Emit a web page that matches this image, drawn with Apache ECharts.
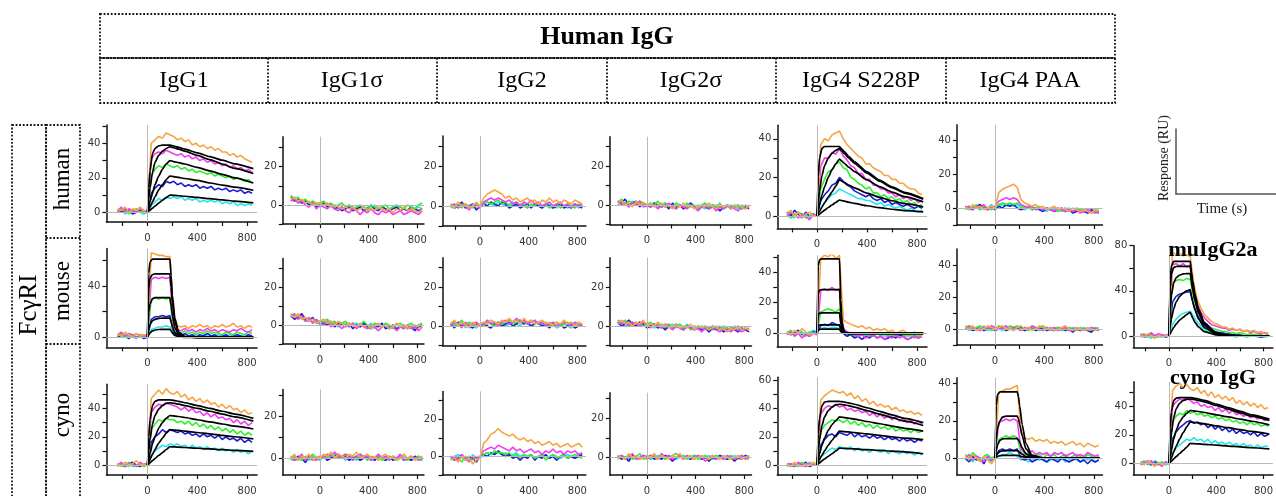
<!DOCTYPE html>
<html><head><meta charset="utf-8">
<script src="https://cdn.jsdelivr.net/npm/echarts@6/dist/echarts.min.js"></script>
<style>html,body{margin:0;padding:0;background:#fff}#c{width:1276px;height:496px}</style>
</head><body><div id="c"></div>
<script>
// ---- time bases ----
const T = [-240,-210,-180,-150,-120,-90,-60,-30,0,30,60,90,120,150,180,210,240,270,300,330,360,390,420,450,480,510,540,570,600,630,660,690,720,750,780,810,840];
const FT = [0,10,20,40,60,90,120,150,180,190,200,220,250,300,400,500,600,700,850];
const XT = [-200,0,200,400,600,800];
const XL = [0,400,800];
// ---- human FcγRI ----
const hIgG1_O = [2,1,3,0,2,1,3,1, 1, 40,42,44,43,46,45, 44,42,43,41,42,39,40,38,39,37,38,36,37,35,35,33,34,32,33,31,30,29];
const hIgG1_M = [1,3,0,2,1,0,2,1, 0, 31,34,35,34,36,35, 34,33,34,32,33,31,32,30,31,29,30,28,29,27,28,26,27,25,26,24,25,23];
const hIgG1_G = [0,2,1,-1,1,2,0,1, 0, 21,25,27,26,28,27, 26,27,25,26,24,25,23,24,23,22,23,21,22,21,20,21,19,20,19,18,19,17];
const hIgG1_B = [1,0,2,1,-1,0,1,0, 0, 11,14,16,15,18,17, 18,16,17,15,16,15,16,14,15,14,15,13,14,13,14,12,13,12,13,11,12,11];
const hIgG1_C = [0,1,-1,1,0,2,0,-1, 0, 4,6,8,7,9,8, 9,8,9,7,8,7,8,6,7,6,7,6,7,5,6,5,6,4,5,4,5,4];
const hIgG1_F1 = [0,14,24,34,37,38.5,39,39,39,38.8,38.6,38.2,37.6,36.6,34.5,32.3,30.2,28.1,25.3];
const hIgG1_F2 = [0,8,14,23,29,33,35.5,37,38,37.8,37.6,37.2,36.6,35.5,33,30.5,28,25.5,22.5];
const hIgG1_F3 = [0,3,6,11,16,21,25,28,30,29.8,29.6,29.2,28.8,28,26,24,22,20,17];
const hIgG1_F4 = [0,1.5,3,6,9,13,16,19,21,20.9,20.8,20.5,20.2,19.6,18.5,17,15.8,14.6,12.8];
const hIgG1_F5 = [0,0.6,1.2,2.4,3.6,5.3,7,8.5,10,9.95,9.9,9.8,9.6,9.3,8.6,7.9,7.2,6.5,5.5];

const hIgG1s_O = [3,4,2,3,1,2,0,1, 1, 0,1,-1,0,-1,-2, -1,-2,-1,-3,-2,-1,-3,-2,-3,-1,-2,-3,-2,-4,-2,-3,-1,-3,-2,-3,-4,-2];
const hIgG1s_M = [2,3,1,2,0,-1,1,-2, 0, -1,-2,0,-2,-3,-1, -3,-4,-2,-3,-5,-3,-4,-2,-4,-5,-3,-4,-3,-5,-4,-3,-5,-4,-3,-4,-5,-3];
const hIgG1s_G = [5,3,4,2,3,1,2,0, 1, 2,0,1,-1,0,1, -1,0,-2,-1,0,-1,-2,0,-1,-2,-1,0,-2,-1,0,-1,-2,0,-1,-2,0,1];
const hIgG1s_B = [4,2,3,1,2,0,1,-1, 0, 1,-1,0,-2,-1,-3, -2,-1,-3,-2,-1,-3,-2,0,-2,-3,-1,-2,-3,-2,-1,-3,-2,-3,-1,-2,-3,-2];
const hIgG1s_C = [3,4,2,1,3,0,2,1, -1, 0,1,-1,0,-2,-1, -2,0,-1,-2,-1,-3,-1,-2,0,-2,-1,-2,-3,-1,-2,-1,-2,-3,-1,-2,-1,-2];

const hIgG2_O = [1,-1,2,0,1,-1,0,2, 0, 4,6,7,8,7,6, 4,5,3,4,2,3,4,2,3,1,3,2,4,2,3,1,3,2,1,3,2,1];
const hIgG2_M = [0,1,-1,1,0,-2,1,0, -1, 2,3,4,3,4,3, 2,3,1,2,0,2,1,3,1,2,0,1,2,0,1,2,0,1,-1,1,0,1];
const hIgG2_G = [-1,0,1,-1,1,0,-1,1, 0, 1,2,1,2,3,1, 2,0,1,2,0,1,-1,1,0,2,0,1,-1,0,1,-1,0,1,0,-1,1,0];
const hIgG2_B = [1,-1,0,2,-1,0,1,-2, 0, 1,0,2,1,0,2, 1,-1,0,1,-1,0,1,-1,1,0,-1,1,0,-1,0,1,-1,0,-1,1,0,-1];
const hIgG2_C = [0,1,-1,0,1,-1,0,1, 0, 1,2,1,0,2,1, 0,1,2,0,1,0,-1,1,0,1,-1,0,1,0,-1,1,0,-1,0,1,-1,0];

const hIgG2s_O = [1,2,0,1,-1,2,0,1, 0, 1,-1,0,1,-1,0, -2,0,-1,1,-1,0,-2,-1,0,-1,1,-1,-2,0,-1,0,-2,-1,0,-1,-2,0];
const hIgG2s_M = [2,0,1,-1,1,0,2,-1, 0, -1,0,-2,0,-1,1, -1,-2,0,-1,-2,0,-1,-3,-1,0,-2,-1,-3,-1,-2,0,-1,-2,-3,-1,-2,-1];
const hIgG2s_G = [1,3,0,2,1,0,2,1, 0, 1,0,2,-1,1,0, -1,1,0,-1,1,-1,0,-2,0,1,-1,0,-1,1,-2,0,-1,0,-1,-2,0,-1];
const hIgG2s_B = [2,1,3,0,1,2,-1,1, 0, -1,1,0,-1,0,-2, 1,-1,0,-2,-1,1,-1,-2,0,-1,-2,0,-1,-3,-1,0,-2,-1,0,-2,-1,-2];
const hIgG2s_C = [0,2,1,-1,2,0,1,0, -1, 0,1,-1,0,1,-1, 0,-2,0,-1,0,1,-1,0,-1,-2,0,-1,0,-1,-2,-1,0,-1,-2,0,-1,-1];

const hIgG4s_O = [1,3,0,2,-1,1,2,0, 0, 37,40,39,42,43,44, 40,37,35,33,31,30,27,27,25,24,23,21,21,19,19,17,17,15,14,14,12,11];
const hIgG4s_M = [0,2,1,-1,1,0,-2,1, 0, 26,30,30,33,32,35, 31,29,26,25,22,22,19,19,16,16,14,14,12,12,10,11,9,10,8,9,7,8];
const hIgG4s_G = [1,-1,0,2,1,-1,0,1, 0, 14,19,23,24,27,28, 25,24,20,19,17,16,14,15,12,12,10,11,9,10,8,9,7,8,6,7,5,6];
const hIgG4s_B = [2,0,3,1,-1,2,0,1, 0, 8,11,13,16,17,20, 18,16,15,13,12,11,10,11,9,8,9,7,8,6,7,6,5,6,5,4,5,4];
const hIgG4s_C = [0,1,-1,2,0,1,-1,0, 0, 4,7,9,11,12,14, 13,12,11,10,9,9,8,8,7,6,7,5,6,5,4,5,4,3,4,3,2,3];
const hIgG4s_F1 = [0,20,30,35,36,36,36,36,36,35.3,34.5,33.3,31.1,28.1,22.9,18.6,15.1,12.3,9];
const hIgG4s_F2 = [0,7,13,21,26,30,32.5,34,35,34.3,33.6,32.3,30.2,27.3,22.2,18,14.7,11.9,8.7];
const hIgG4s_F3 = [0,3,6,11,15,20,24,27,29.5,28.9,28.3,27.2,25.5,23,18.7,15.2,12.4,10,7.3];
const hIgG4s_F4 = [0,1.2,2.4,4.6,6.8,9.8,12.5,15.5,18.8,18.4,18,17.3,16.2,14.6,11.9,9.7,7.9,6.4,4.7];
const hIgG4s_F5 = [0,0.5,1,2,3,4.4,5.7,7,8.3,8.1,8,7.7,7.2,6.5,5.3,4.3,3.5,2.8,2.1];

const hIgG4p_O = [1,-1,2,0,1,-1,0,1, 0, 9,11,12,13,14,12, 5,3,2,1,2,0,1,-1,0,1,-1,0,-1,-2,0,-1,-2,-1,-2,-3,-1,-2];
const hIgG4p_M = [0,1,-1,1,0,2,-1,0, 1, 4,5,6,5,6,5, 2,1,0,1,-1,0,-1,0,-1,-2,0,-1,-2,-1,-2,-1,-3,-2,-1,-2,-3,-2];
const hIgG4p_G = [-1,1,0,2,-1,1,0,-1, 0, 2,3,2,3,2,3, 1,0,1,-1,0,1,-1,0,-1,0,-2,-1,0,-1,-2,0,-1,-2,-1,-3,-2,-1];
const hIgG4p_B = [1,0,-1,1,2,0,-1,1, -1, 1,0,2,1,2,0, -1,0,1,-1,0,-1,-2,0,-1,-2,-1,0,-2,-1,-3,-2,-1,-2,-3,-1,-2,-3];
const hIgG4p_C = [0,-1,1,0,-1,1,0,2, 0, 1,2,1,2,1,2, 0,-1,0,1,-1,0,-1,-2,0,-1,0,-2,-1,0,-2,-1,-2,-1,-3,-2,-1,-2];

// ---- mouse FcγRI ----
const mIgG1_O = [3,1,4,2,0,3,1,2, 2, 66,65,64,64,63,63, 10,9,8,9,7,9,8,10,8,9,7,9,8,10,8,9,11,8,9,7,9,8];
const mIgG1_M = [2,4,1,3,2,0,2,1, 1, 45,47,46,47,46,47, 7,6,5,7,5,6,4,6,5,7,5,6,4,6,5,4,6,5,7,5,4,6];
const mIgG1_G = [1,3,0,2,1,3,0,2, 0, 30,31,30,31,30,31, 5,4,3,5,3,4,2,4,3,5,3,4,3,2,4,3,2,4,3,2,4,3];
const mIgG1_B = [0,2,1,-1,2,0,1,-1, 0, 14,16,16,17,16,17, 3,2,1,3,1,2,0,2,1,3,1,2,0,1,2,0,1,2,1,0,2,1];
const mIgG1_C = [1,0,2,1,0,-1,2,0, 0, 6,7,8,8,9,8, 2,1,2,0,1,2,1,0,2,1,0,1,2,0,1,2,0,1,0,2,1,0];
const mIgG1_F1 = [0,50,59,61,61,61,61,61,61,48,33,15,4,0.5,0,0,0,0,0];
const mIgG1_F2 = [0,38,46,49,49.5,49.5,49.5,49.5,49.5,39,27,12,3.5,0.5,0,0,0,0,0];
const mIgG1_F3 = [0,20,26,30,31,31,31,31,31,24.5,17,7.5,2.2,0.3,0,0,0,0,0];
const mIgG1_F4 = [0,7,10,13,14,14.8,15,15,15,12,8.2,3.7,1,0.2,0,0,0,0,0];
const mIgG1_F5 = [0,2,3.5,5,5.7,6.1,6.2,6.2,6.2,5,3.4,1.5,0.4,0,0,0,0,0,0];

const mIgG1s_O = [5,4,6,3,4,2,3,1, 2, 3,1,2,0,2,1, -1,1,0,-1,1,-1,0,-2,0,1,-1,0,-2,-1,1,-1,0,-2,-1,0,-1,-2];
const mIgG1s_M = [4,6,3,5,2,4,1,3, 1, 0,2,-1,1,0,-2, 0,-1,1,-2,0,-1,-2,0,-1,-3,-1,0,-2,-1,-3,-1,-2,0,-2,-1,-3,-1];
const mIgG1s_G = [6,4,5,3,4,2,3,2, 1, 2,3,1,2,0,1, 2,0,1,-1,0,2,0,-1,1,0,-1,1,0,-2,0,1,-1,0,1,-1,0,1];
const mIgG1s_B = [5,3,4,6,3,2,4,1, 2, 1,0,2,-1,1,0, -1,1,-2,0,-1,1,-1,-2,0,-1,1,-2,-1,0,-2,-1,0,-2,-1,-3,-1,0];
const mIgG1s_C = [4,5,3,4,2,3,1,2, 0, 1,2,0,1,-1,0, 1,-1,0,1,-1,0,-1,1,-2,0,-1,0,-2,-1,0,-1,-2,0,-1,-2,-1,0];

const mIgG2_O = [1,3,0,2,1,-1,2,0, 1, 2,1,3,2,1,3, 2,4,2,3,1,4,2,3,1,2,3,1,2,0,2,1,3,1,2,0,2,1];
const mIgG2_M = [0,2,1,-1,2,0,1,2, 0, 1,3,1,2,0,2, 3,1,2,4,2,3,1,2,3,1,2,0,1,2,0,1,2,1,0,2,1,0];
const mIgG2_G = [2,0,1,3,0,2,1,0, 1, 0,2,1,0,2,1, 2,3,1,2,3,2,1,3,1,2,1,2,0,1,2,0,1,2,0,1,0,1];
const mIgG2_B = [1,-1,2,0,1,0,-1,1, 0, 1,0,-1,1,2,0, 1,2,0,1,3,1,2,0,1,2,0,1,-1,1,0,1,-1,0,1,-1,0,1];
const mIgG2_C = [0,1,0,2,-1,1,0,-1, 1, 0,1,2,0,1,2, 0,1,2,1,0,2,1,0,2,1,0,1,0,1,-1,0,1,0,-1,1,0,0];

const mIgG2s_O = [2,3,1,2,0,2,1,3, 0, 1,0,2,0,1,-1, 0,1,-1,0,-1,1,-2,0,-1,0,-2,-1,0,-2,-1,-3,-1,-2,0,-2,-1,-2];
const mIgG2s_M = [3,1,2,0,2,1,0,2, 1, -1,1,0,-1,1,0, -2,0,-1,-2,0,-1,-2,-1,-3,-1,-2,0,-2,-3,-1,-2,-3,-1,-2,-3,-2,-1];
const mIgG2s_G = [1,2,3,1,0,2,1,0, 1, 2,0,1,-1,0,1, -1,0,1,-1,0,-2,0,-1,0,-2,-1,0,-1,-2,0,-1,-2,-1,0,-2,-1,-2];
const mIgG2s_B = [2,0,1,3,1,0,2,1, -1, 0,1,-1,0,-2,0, -1,1,-1,-2,0,-1,-2,0,-2,-1,-3,-1,-2,-1,-3,-2,-1,-2,-3,-1,-2,-3];
const mIgG2s_C = [1,2,0,1,2,1,0,1, 0, 1,-1,0,1,-1,0, 1,-1,0,-1,1,-1,0,-2,-1,0,-1,-2,-1,0,-2,-1,-2,0,-1,-2,-1,-2];

const mIgG4s_O = [1,-1,2,0,3,1,-1,0, 0, 49,51,50,52,49,51, 9,7,6,5,4,5,3,4,2,3,2,3,1,2,0,1,2,0,-1,1,-1,-2];
const mIgG4s_M = [-1,1,-2,0,-3,-1,-2,0, -1, 28,29,28,30,28,29, 3,1,0,-1,-2,-1,-3,-2,-1,-3,-2,-4,-2,-3,-1,-3,-2,-4,-3,-2,-3,-2];
const mIgG4s_G = [0,2,-1,1,0,-2,1,0, 0, 14,15,16,15,14,16, 2,1,-1,0,-2,-1,0,-2,-1,-3,-1,0,-2,-1,-2,0,-1,-2,-1,-3,-2,-1];
const mIgG4s_B = [1,-1,0,2,-1,0,-2,1, 0, 5,6,5,7,6,5, 0,-2,-1,-3,-2,-4,-2,-3,-1,-3,-2,-4,-3,-2,-3,-1,-2,-4,-3,-2,-3,-2];
const mIgG4s_C = [0,1,-1,0,1,-1,0,2, 1, 3,4,3,4,4,3, 0,-1,0,-2,-1,0,-2,-1,-2,0,-1,-2,-1,-3,-1,-2,0,-1,-2,-1,-2,-1];
const mIgG4s_F1 = [0,44,48,48.7,48.7,48.7,48.7,48.7,48.7,22,7,1,0,0,0,0,0,0,0];
const mIgG4s_F2 = [0,26,28.3,28.5,28.5,28.5,28.5,28.5,28.5,13,4,0.5,0,0,0,0,0,0,0];
const mIgG4s_F3 = [0,12,13.2,13.3,13.3,13.3,13.3,13.3,13.3,6,2,0.3,0,0,0,0,0,0,0];
const mIgG4s_F4 = [0,5,5.4,5.5,5.5,5.5,5.5,5.5,5.5,2.5,0.8,0.1,0,0,0,0,0,0,0];
const mIgG4s_F5 = [0,2.4,2.6,2.7,2.7,2.7,2.7,2.7,2.7,1.2,0.4,0,0,0,0,0,0,0,0];

const mIgG4p_O = [1,0,2,-1,1,0,2,1, 0, 1,2,0,1,-1,1, 2,0,1,-1,0,2,1,0,1,-1,0,1,2,0,-1,1,0,-1,1,0,-1,0];
const mIgG4p_M = [0,2,1,0,-1,1,0,2, 1, 0,1,2,0,1,0, -1,1,0,2,1,0,-1,1,0,1,-1,0,1,-1,0,1,-1,0,-1,1,0,-1];
const mIgG4p_G = [2,1,0,1,2,0,1,-1, 0, 2,1,0,2,1,2, 0,1,-1,1,0,1,2,0,1,0,1,-1,0,1,0,-1,1,0,-1,0,1,0];
const mIgG4p_B = [0,1,-1,0,1,-1,0,1, -1, 0,1,-1,0,1,0, 1,-1,0,1,-1,0,1,-1,0,-1,1,0,-1,0,-2,0,-1,0,-1,-2,0,-1];
const mIgG4p_C = [1,-1,0,1,0,2,-1,0, 1, 0,-1,1,0,-1,1, 0,-1,1,0,1,-1,0,1,-1,0,1,-1,0,-1,1,0,-1,1,0,-1,0,1];

const mMu_O = [1,-1,2,0,-2,1,-1,0, 1, 74,72,73,71,72,70, 46,32,25,19,16,13,11,10,8,8,6,7,5,6,4,5,4,5,3,4,2,3];
const mMu_M = [2,0,1,3,0,2,1,0, 2, 63,64,62,64,61,63, 41,29,21,16,13,10,9,8,7,7,5,6,5,6,4,5,3,4,3,2,3,2];
const mMu_G = [0,2,-1,1,0,-1,1,0, 0, 47,49,50,49,51,50, 33,23,16,12,9,7,6,5,4,4,3,3,2,3,2,1,2,1,2,1,0,1];
const mMu_B = [1,-1,0,2,-1,0,1,-1, 0, 30,35,37,38,39,39, 27,19,13,9,7,5,4,3,3,2,2,1,2,1,0,1,0,1,0,-1,0,1];
const mMu_C = [-1,1,0,-2,1,0,-1,1, 0, 10,15,18,20,21,22, 17,12,9,6,4,3,2,1,2,0,1,0,-1,1,0,-1,0,1,-1,0,-1,0];
const mMu_F1 = [0,50,62,66,66,66,66,66,66,57,49.5,37,24,11.6,2.7,0.6,0.2,0,0];
const mMu_F2 = [0,42,55,60.5,61.5,61.6,61.6,61.6,61.6,53,46,34.5,22.5,11,2.6,0.6,0.2,0,0];
const mMu_F3 = [0,22,36,47,51.5,54,55,55.2,55.3,47.5,41,31,20,9.8,2.3,0.5,0.1,0,0];
const mMu_F4 = [0,8,15,24,30,35,38,40,41,35.5,30.5,23,15,7.3,1.7,0.4,0.1,0,0];
const mMu_F5 = [0,2,4,7.5,10.5,14,16.5,19,21,18.5,16,12,8,3.9,0.9,0.2,0,0,0];

// ---- cyno FcγRI ----
const cIgG1_O = [1,-1,2,0,1,3,0,1, 0, 47,50,53,50,54,51, 50,52,48,50,46,48,45,47,44,46,43,44,41,43,40,42,39,40,37,39,36,37];
const cIgG1_M = [0,2,-1,1,0,-1,2,0, 1, 37,41,43,42,44,43, 42,41,39,41,38,40,37,38,35,37,34,36,33,34,32,33,30,32,29,31,28,30];
const cIgG1_G = [-1,1,0,2,-1,0,1,-1, 0, 25,29,32,31,33,32, 32,30,31,29,31,28,30,27,29,26,28,25,27,24,26,23,25,22,24,21,23,21];
const cIgG1_B = [1,0,-1,1,2,0,-1,1, 0, 16,20,22,25,23,25, 24,23,24,22,23,21,22,20,22,20,21,19,21,18,20,18,19,17,19,16,18,16];
const cIgG1_C = [0,1,0,-1,1,-1,0,1, 0, 7,10,12,14,13,15, 14,15,13,14,12,14,12,13,11,13,11,12,10,12,10,11,9,11,9,10,8,10];
const cIgG1_F1 = [0,20,32,42,45,46,46,46,46,45.9,45.8,45.5,45,44,42,40,38,36,33];
const cIgG1_F2 = [0,10,18,29,35,39.5,42,43.5,44,43.9,43.8,43.5,43,42,40,38,36,34,31];
const cIgG1_F3 = [0,4,8,15,20,26,30,33,35,34.9,34.8,34.6,34.3,33.6,32,30.5,29,27.5,25.5];
const cIgG1_F4 = [0,2,4,7.5,11,15.5,19,22.5,25,24.9,24.8,24.7,24.5,24,23,22,21,20,18.5];
const cIgG1_F5 = [0,0.8,1.6,3.2,4.6,6.8,8.8,11,13,12.9,12.9,12.8,12.7,12.4,11.9,11.4,10.9,10.4,9.7];

const cIgG1s_O = [0,2,-1,1,0,2,-1,1, 0, 2,1,3,0,2,1, 0,2,1,3,0,1,2,0,1,-1,1,2,0,1,-1,0,2,0,1,-1,0,1];
const cIgG1s_M = [1,-1,0,2,-1,1,0,-1, 1, 0,2,1,3,1,0, 2,1,-1,1,2,0,1,-1,0,2,0,1,-1,1,0,2,-1,0,1,0,-1,1];
const cIgG1s_G = [-1,1,0,-1,1,0,2,0, -1, 1,0,2,1,0,1, 2,0,1,0,2,1,-1,1,0,1,-1,0,1,0,-1,1,0,-1,1,0,1,-1];
const cIgG1s_B = [0,-1,1,0,-2,1,-1,0, 0, 1,-1,0,1,2,0, 1,-1,0,1,-1,0,1,0,-1,1,0,-1,1,-1,0,1,-1,0,-1,1,0,-1];
const cIgG1s_C = [1,0,-1,1,0,-1,1,0, 0, 0,1,0,2,0,1, -1,1,0,-1,1,0,1,-1,0,1,0,-1,0,1,-1,0,1,0,-1,0,1,0];

const cIgG2_O = [-2,-1,-3,0,-2,-1,-4,-2, -1, 7,9,12,13,15,13, 12,11,12,10,9,10,8,9,7,8,6,7,8,6,7,5,6,7,5,6,7,5];
const cIgG2_M = [-1,0,-2,1,-1,-3,0,-1, 0, 3,4,5,4,6,5, 4,3,5,3,4,2,3,4,2,3,1,3,2,4,2,3,1,3,2,3,1,2];
const cIgG2_G = [-2,0,-1,-3,0,-1,-2,0, -1, 1,2,1,3,2,2, 1,2,0,1,-1,1,0,1,-1,0,1,-2,0,1,-1,0,1,-1,0,1,0,-1];
const cIgG2_B = [0,-2,-1,1,-2,0,-1,-3, 0, 1,0,2,1,3,1, 0,1,-1,0,-2,0,-1,1,-2,0,-1,1,-1,0,-2,0,1,-1,0,-1,0,1];
const cIgG2_C = [-1,0,1,-1,0,-2,1,-1, 0, 1,2,1,2,2,1, 2,0,1,2,0,1,0,1,-1,0,1,0,-1,1,0,-1,0,1,0,-1,1,0];

const cIgG2s_O = [1,0,-1,2,0,1,-1,0, 1, 0,2,-1,1,0,-1, 1,0,2,-1,0,1,-1,0,1,0,-1,1,0,-1,1,0,-1,0,1,-1,0,1];
const cIgG2s_M = [0,1,-1,0,2,-1,0,1, -1, 1,0,-1,2,0,1, -1,0,1,-1,1,0,-1,1,0,-2,0,1,-1,0,-1,1,0,-1,0,1,-1,0];
const cIgG2s_G = [-1,1,0,1,-1,0,2,-1, 0, -1,1,0,1,-1,0, 1,2,0,1,-1,0,1,-1,0,1,-1,0,1,0,-1,0,1,-1,0,1,0,-1];
const cIgG2s_B = [1,-1,0,-2,1,0,-1,1, 0, 1,-1,0,-1,1,0, -2,0,1,-1,0,-1,1,0,-1,0,-2,0,-1,1,0,-1,0,-2,0,-1,1,0];
const cIgG2s_C = [0,1,0,-1,1,-1,0,1, 0, -1,0,1,0,-1,1, 0,-1,0,1,0,-1,0,1,-1,0,1,-1,0,1,0,-1,0,1,-1,0,0,1];

const cIgG4s_O = [1,-1,2,0,-1,1,0,2, 0, 46,49,51,53,52,51, 52,49,51,47,49,45,47,43,45,42,43,41,42,39,41,38,39,37,38,36,37,35];
const cIgG4s_M = [0,1,-1,2,0,-1,1,0, 0, 36,40,42,41,43,41, 42,39,40,38,39,37,38,35,37,34,36,33,35,32,34,31,33,30,32,29,31,29];
const cIgG4s_G = [0,-1,1,0,2,-1,0,1, 0, 24,28,30,32,31,32, 30,32,29,31,28,30,27,29,26,28,26,27,25,27,24,26,24,25,23,25,23,24];
const cIgG4s_B = [1,0,-1,1,0,2,-1,0, 0, 14,18,21,22,20,23, 22,21,23,20,22,20,21,19,21,19,20,18,20,18,19,17,19,17,18,16,18,17];
const cIgG4s_C = [-1,1,0,-1,1,0,2,0, 0, 6,8,10,12,11,13, 12,11,13,10,12,10,11,9,11,10,9,11,8,10,9,8,10,8,9,7,9,7];
const cIgG4s_F1 = [0,22,33,42,44.5,45,45,45,45,44.9,44.8,44.5,44,43,40.5,38,35.5,33,30];
const cIgG4s_F2 = [0,10,18,28,34,38.5,41,42.5,43,42.9,42.8,42.5,42,41,38.5,36,33.5,31,28];
const cIgG4s_F3 = [0,4,8,14,19,24.5,28.5,31.5,34,33.9,33.8,33.6,33.2,32.5,30.8,29.2,27.6,26,24];
const cIgG4s_F4 = [0,2,4,7,10,14,17.5,21,24,23.9,23.8,23.6,23.4,23,22,21,20,19,18];
const cIgG4s_F5 = [0,0.8,1.5,3,4.3,6.2,8,10,12,11.9,11.9,11.8,11.7,11.4,10.9,10.4,9.9,9.4,8];

const cIgG4p_O = [1,-1,2,0,-2,1,-1,-3, 0, 35,36,37,37,38,39, 14,11,10,11,9,10,9,10,8,9,8,9,7,8,9,7,8,6,8,7,6,7];
const cIgG4p_M = [0,2,-1,1,0,-2,1,-1, 0, 19,20,21,20,21,20, 5,3,2,4,2,3,2,3,1,3,2,3,1,2,3,1,2,1,3,2,1,2];
const cIgG4p_G = [2,0,3,1,-1,1,2,0, 1, 10,11,12,11,12,11, 3,2,1,2,1,2,0,2,1,2,0,1,2,0,1,2,1,0,2,1,0,1];
const cIgG4p_B = [0,-2,1,-1,0,-3,1,-1, 0, 4,5,4,5,4,5, 0,-1,0,-2,-1,0,-1,-2,0,-1,-2,0,-1,-2,-1,0,-2,-1,-3,-1,-2,-1];
const cIgG4p_C = [-1,0,-2,1,0,-1,0,-2, 0, 1,2,2,3,2,1, -1,0,-2,-1,0,-1,0,-2,-1,0,-1,0,-2,-1,0,-1,-2,0,-1,0,-2,-1];
const cIgG4p_F1 = [0,28,34,35.5,35.5,35.5,35.5,35.5,35.5,33,28,18,8,1.5,0,0,0,0,0];
const cIgG4p_F2 = [0,10,16,20,22,22.5,22.5,22.5,22.5,21,18,12,5,1,0,0,0,0,0];
const cIgG4p_F3 = [0,4,7,9.5,10.3,10.5,10.5,10.5,10.5,9.8,8.5,5.5,2.4,0.5,0,0,0,0,0];
const cIgG4p_F4 = [0,1.5,2.5,3.5,3.9,4,4,4,4,3.7,3.2,2.1,0.9,0.2,0,0,0,0,0];
const cIgG4p_F5 = [0,0.6,1,1.3,1.5,1.5,1.5,1.5,1.5,1.4,1.2,0.8,0.3,0.1,0,0,0,0,0];

const cCy_O = [1,-1,2,0,-2,1,-1,0, 0, 51,54,56,53,55,52, 51,53,49,51,47,50,46,48,45,47,44,46,42,44,41,43,40,42,39,41,38,39];
const cCy_M = [-1,1,0,2,-1,0,-2,1, 0, 40,43,45,44,46,44, 42,43,40,41,39,40,37,39,36,38,35,37,34,35,33,34,32,33,31,32,30,31];
const cCy_G = [0,2,-1,1,0,-1,1,0, 0, 29,33,35,34,37,35, 36,34,35,33,34,32,33,31,32,30,31,29,30,28,29,27,29,27,28,26,27,26];
const cCy_B = [1,0,2,-1,1,0,-1,1, 0, 17,22,25,27,29,30, 28,29,27,28,25,27,24,26,23,25,22,24,21,23,21,22,20,22,19,21,19,20];
const cCy_C = [-1,1,0,-1,2,0,1,-1, 0, 8,11,13,15,17,16, 18,16,17,15,17,14,16,14,15,13,15,13,14,12,14,12,13,11,13,11,12,12];
const cCy_F1 = [0,25,36,44,45.5,46,46,46,46,45.9,45.8,45.5,45,44,41.5,39,36.5,34,31];
const cCy_F2 = [0,12,21,32,38,42,44,44.8,45,44.9,44.8,44.5,44,43,40.5,38,35.5,33,30];
const cCy_F3 = [0,5,9,17,23,29,32.5,35,37,36.9,36.8,36.6,36.3,35.6,34,32.5,31,29.5,27];
const cCy_F4 = [0,2,4,8,12,17,21.5,25.5,29,28.9,28.8,28.6,28.3,27.7,26.3,25,23.7,22.4,20.5];
const cCy_F5 = [0,0.8,1.6,3.2,4.8,7,9.2,11.5,14,13.9,13.9,13.8,13.7,13.4,12.8,12.2,11.6,11,10.2];

// ---- labels ----
const colTitles = ['IgG1','IgG1σ','IgG2','IgG2σ','IgG4 S228P','IgG4 PAA'];
const rowTitles = ['human','mouse','cyno'];

// ---- layout (positions only) ----
const COLS = [
  {x0:147.5, sx:0.1245, xmin:-330, xmax:880},
  {x0:320,   sx:0.1216, xmin:-306, xmax:855},
  {x0:480,   sx:0.1217, xmin:-308, xmax:870},
  {x0:647,   sx:0.1215, xmin:-306, xmax:860},
  {x0:817,   sx:0.125,  xmin:-318, xmax:880},
  {x0:995,   sx:0.1235, xmin:-308, xmax:870},
  {x0:1172,  sx:0.128,  xmin:-302, xmax:880}
];
const S = (a,b,s)=>{const r=[];for(let v=a;v<=b;v+=s)r.push(v);return r;};
const panels = [
  {c:0, y0:212.3, sy:1.725, ymin:-5.6, ymax:50.6, yt:S(0,50,10), yl:[0,20,40], d:[hIgG1_O,hIgG1_M,hIgG1_G,hIgG1_B,hIgG1_C], f:[hIgG1_F1,hIgG1_F2,hIgG1_F3,hIgG1_F4,hIgG1_F5]},
  {c:1, y0:205, sy:1.92, ymin:-10, ymax:35.6, yt:S(-10,30,10), yl:[0,20], d:[hIgG1s_O,hIgG1s_M,hIgG1s_G,hIgG1s_B,hIgG1s_C], f:[]},
  {c:2, y0:206, sy:2.0, ymin:-10, ymax:35, yt:S(-10,30,10), yl:[0,20], d:[hIgG2_O,hIgG2_M,hIgG2_G,hIgG2_B,hIgG2_C], f:[]},
  {c:3, y0:205, sy:1.95, ymin:-10, ymax:35, yt:S(-10,30,10), yl:[0,20], d:[hIgG2s_O,hIgG2s_M,hIgG2s_G,hIgG2s_B,hIgG2s_C], f:[]},
  {c:4, y0:216, sy:1.93, ymin:-6.4, ymax:47, yt:S(0,40,10), yl:[0,20,40], d:[hIgG4s_O,hIgG4s_M,hIgG4s_G,hIgG4s_B,hIgG4s_C], f:[hIgG4s_F1,hIgG4s_F2,hIgG4s_F3,hIgG4s_F4,hIgG4s_F5]},
  {c:5, y0:208, sy:1.7, ymin:-10, ymax:49, yt:S(-10,40,10), yl:[0,20,40], d:[hIgG4p_O,hIgG4p_M,hIgG4p_G,hIgG4p_B,hIgG4p_C], f:[]},

  {c:0, y0:337.3, sy:1.28, ymin:-7.8, ymax:69.4, yt:S(0,60,20), yl:[0,40], d:[mIgG1_O,mIgG1_M,mIgG1_G,mIgG1_B,mIgG1_C], f:[mIgG1_F1,mIgG1_F2,mIgG1_F3,mIgG1_F4,mIgG1_F5]},
  {c:1, y0:325, sy:1.9, ymin:-10, ymax:35, yt:S(-10,30,10), yl:[0,20], d:[mIgG1s_O,mIgG1s_M,mIgG1s_G,mIgG1s_B,mIgG1s_C], f:[]},
  {c:2, y0:326, sy:1.95, ymin:-10, ymax:35, yt:S(-10,30,10), yl:[0,20], d:[mIgG2_O,mIgG2_M,mIgG2_G,mIgG2_B,mIgG2_C], f:[]},
  {c:3, y0:326, sy:1.95, ymin:-10, ymax:35, yt:S(-10,30,10), yl:[0,20], d:[mIgG2s_O,mIgG2s_M,mIgG2s_G,mIgG2s_B,mIgG2s_C], f:[]},
  {c:4, y0:333.3, sy:1.53, ymin:-9, ymax:51, yt:S(0,50,10), yl:[0,20,40], d:[mIgG4s_O,mIgG4s_M,mIgG4s_G,mIgG4s_B,mIgG4s_C], f:[mIgG4s_F1,mIgG4s_F2,mIgG4s_F3,mIgG4s_F4,mIgG4s_F5]},
  {c:5, y0:329, sy:1.6, ymin:-10, ymax:50, yt:S(-10,40,10), yl:[0,20,40], d:[mIgG4p_O,mIgG4p_M,mIgG4p_G,mIgG4p_B,mIgG4p_C], f:[]},
  {c:6, y0:336, sy:1.13, ymin:-10, ymax:80, yt:S(0,80,20), yl:[0,40,80], d:[mMu_O,mMu_M,mMu_G,mMu_B,mMu_C], f:[mMu_F1,mMu_F2,mMu_F3,mMu_F4,mMu_F5], title:'muIgG2a', ty:250},

  {c:0, y0:467, sy:1.45, ymin:-7, ymax:57, yt:S(0,50,10), yl:[0,20,40], d:[cIgG1_O,cIgG1_M,cIgG1_G,cIgG1_B,cIgG1_C], f:[cIgG1_F1,cIgG1_F2,cIgG1_F3,cIgG1_F4,cIgG1_F5]},
  {c:1, y0:462, sy:2.2, ymin:-8, ymax:33, yt:S(0,30,10), yl:[0,20], d:[cIgG1s_O,cIgG1s_M,cIgG1s_G,cIgG1s_B,cIgG1s_C], f:[]},
  {c:2, y0:460.7, sy:1.98, ymin:-10, ymax:35, yt:S(-10,30,10), yl:[0,20], d:[cIgG2_O,cIgG2_M,cIgG2_G,cIgG2_B,cIgG2_C], f:[]},
  {c:3, y0:462, sy:2.1, ymin:-9, ymax:33, yt:S(0,30,10), yl:[0,20], d:[cIgG2s_O,cIgG2s_M,cIgG2s_G,cIgG2s_B,cIgG2s_C], f:[]},
  {c:4, y0:466, sy:1.43, ymin:-7, ymax:62, yt:S(0,60,10), yl:[0,20,40,60], d:[cIgG4s_O,cIgG4s_M,cIgG4s_G,cIgG4s_B,cIgG4s_C], f:[cIgG4s_F1,cIgG4s_F2,cIgG4s_F3,cIgG4s_F4,cIgG4s_F5]},
  {c:5, y0:464.3, sy:2.01, ymin:-9, ymax:43, yt:S(0,40,10), yl:[0,20,40], d:[cIgG4p_O,cIgG4p_M,cIgG4p_G,cIgG4p_B,cIgG4p_C], f:[cIgG4p_F1,cIgG4p_F2,cIgG4p_F3,cIgG4p_F4,cIgG4p_F5]},
  {c:6, y0:467.3, sy:1.5, ymin:-8, ymax:57, yt:S(0,50,10), yl:[0,20,40], d:[cCy_O,cCy_M,cCy_G,cCy_B,cCy_C], f:[cCy_F1,cCy_F2,cCy_F3,cCy_F4,cCy_F5], title:'cyno IgG', ty:378}
];

const COLORS = ['#f7a445','#f23cf2','#2ff02f','#1c1cd6','#26e6ea']; // O,M,G,B,C
const AX = '#111';
const grids=[], xAxis=[], yAxis=[], series=[];
panels.forEach((p,i)=>{
  const C = COLS[p.c];
  grids.push({left:C.x0 + C.xmin*C.sx, top:p.y0 - p.ymax*p.sy, width:(C.xmax-C.xmin)*C.sx, height:(p.ymax-p.ymin)*p.sy});
  xAxis.push({gridIndex:i, type:'value', min:C.xmin, max:C.xmax,
    axisLine:{onZero:false, lineStyle:{color:AX, width:1.5}},
    axisTick:{customValues:XT, length:4, lineStyle:{color:AX, width:1.2}},
    axisLabel:{customValues:XL, fontFamily:'DejaVu Sans', fontSize:10, color:'#333', margin:11},
    splitLine:{show:false}});
  yAxis.push({gridIndex:i, type:'value', min:p.ymin, max:p.ymax,
    axisLine:{show:true, onZero:false, lineStyle:{color:AX, width:1.5}},
    axisTick:{show:true, customValues:p.yt, length:4, lineStyle:{color:AX, width:1.2}},
    axisLabel:{customValues:p.yl, fontFamily:'DejaVu Sans', fontSize:10, color:'#333', margin:6},
    splitLine:{show:false}});
  const order=[4,3,2,1,0];
  order.forEach((k,j)=>{
    const arr=p.d[k];
    const s={type:'line', xAxisIndex:i, yAxisIndex:i, showSymbol:false, symbol:'none', clip:true,
      lineStyle:{color:COLORS[k], width:1.6}, data:T.slice(0,arr.length).map((t,m)=>[t,arr[m]]), z:2};
    if(j===0){
      s.markLine={silent:true, symbol:'none', label:{show:false}, animation:false,
        lineStyle:{color:'#b8b8b8', width:1, type:'solid'}, data:[{xAxis:0},{yAxis:0}]};
    }
    series.push(s);
  });
  p.f.forEach(arr=>{
    series.push({type:'line', xAxisIndex:i, yAxisIndex:i, showSymbol:false, symbol:'none', clip:true,
      smooth:0.2, smoothMonotone:'x', z:3,
      lineStyle:{color:'#000', width:1.7}, data:FT.slice(0,arr.length).map((t,m)=>[t,arr[m]])});
  });
});
// schematic axes (top-right)
const si = grids.length;
grids.push({left:1176, top:129, width:110, height:65});
xAxis.push({gridIndex:si, type:'value', min:0, max:1, axisLine:{onZero:false, lineStyle:{color:'#555', width:1.5}}, axisTick:{show:false}, axisLabel:{show:false}, splitLine:{show:false}});
yAxis.push({gridIndex:si, type:'value', min:0, max:1, axisLine:{show:true, onZero:false, lineStyle:{color:'#555', width:1.5}}, axisTick:{show:false}, axisLabel:{show:false}, splitLine:{show:false}});

// ---- frame graphics ----
const DOT = {fill:'transparent', stroke:'#111', lineWidth:1.8, lineDash:[1.8,1.8]};
const g = [];
g.push({type:'rect', shape:{x:100,y:14,width:1015,height:44}, style:DOT, silent:true});
g.push({type:'rect', shape:{x:100,y:58,width:1015,height:45}, style:DOT, silent:true});
[268,437,607,776,946].forEach(x=>g.push({type:'line', shape:{x1:x,y1:58,x2:x,y2:103}, style:DOT, silent:true}));
g.push({type:'text', x:607, y:37, style:{text:'Human IgG', font:'bold 26px "Liberation Serif"', fill:'#000', align:'center', verticalAlign:'middle'}});
const colCenters=[184,352,522,691,861,1030];
colTitles.forEach((t,i)=>g.push({type:'text', x:colCenters[i], y:81, style:{text:t, font:'24px "Liberation Serif"', fill:'#000', align:'center', verticalAlign:'middle'}}));
g.push({type:'rect', shape:{x:12,y:125,width:34,height:375}, style:DOT, silent:true});
g.push({type:'rect', shape:{x:46,y:125,width:34,height:375}, style:DOT, silent:true});
[238,344].forEach(y=>g.push({type:'line', shape:{x1:46,y1:y,x2:80,y2:y}, style:DOT, silent:true}));
g.push({type:'text', x:29, y:305, rotation:Math.PI/2, style:{text:'FcγRI', font:'25px "Liberation Serif"', fill:'#000', align:'center', verticalAlign:'middle'}});
const rowCenters=[179,291,415];
rowTitles.forEach((t,i)=>g.push({type:'text', x:63, y:rowCenters[i], rotation:Math.PI/2, style:{text:t, font:'23px "Liberation Serif"', fill:'#000', align:'center', verticalAlign:'middle'}}));
panels.forEach(p=>{ if(p.title) g.push({type:'text', x:1213, y:p.ty, z:10, style:{text:p.title, font:'bold 22px "Liberation Serif"', fill:'#000', align:'center', verticalAlign:'middle'}}); });
g.push({type:'text', x:1164, y:158, rotation:Math.PI/2, style:{text:'Response (RU)', font:'14px "Liberation Serif"', fill:'#222', align:'center', verticalAlign:'middle'}});
g.push({type:'text', x:1222, y:209, style:{text:'Time (s)', font:'15px "Liberation Serif"', fill:'#222', align:'center', verticalAlign:'middle'}});

const chart = echarts.init(document.getElementById('c'), null, {renderer:'canvas', width:1276, height:496});
chart.setOption({animation:false, backgroundColor:'#fff', grid:grids, xAxis, yAxis, series, graphic:g});
</script></body></html>
